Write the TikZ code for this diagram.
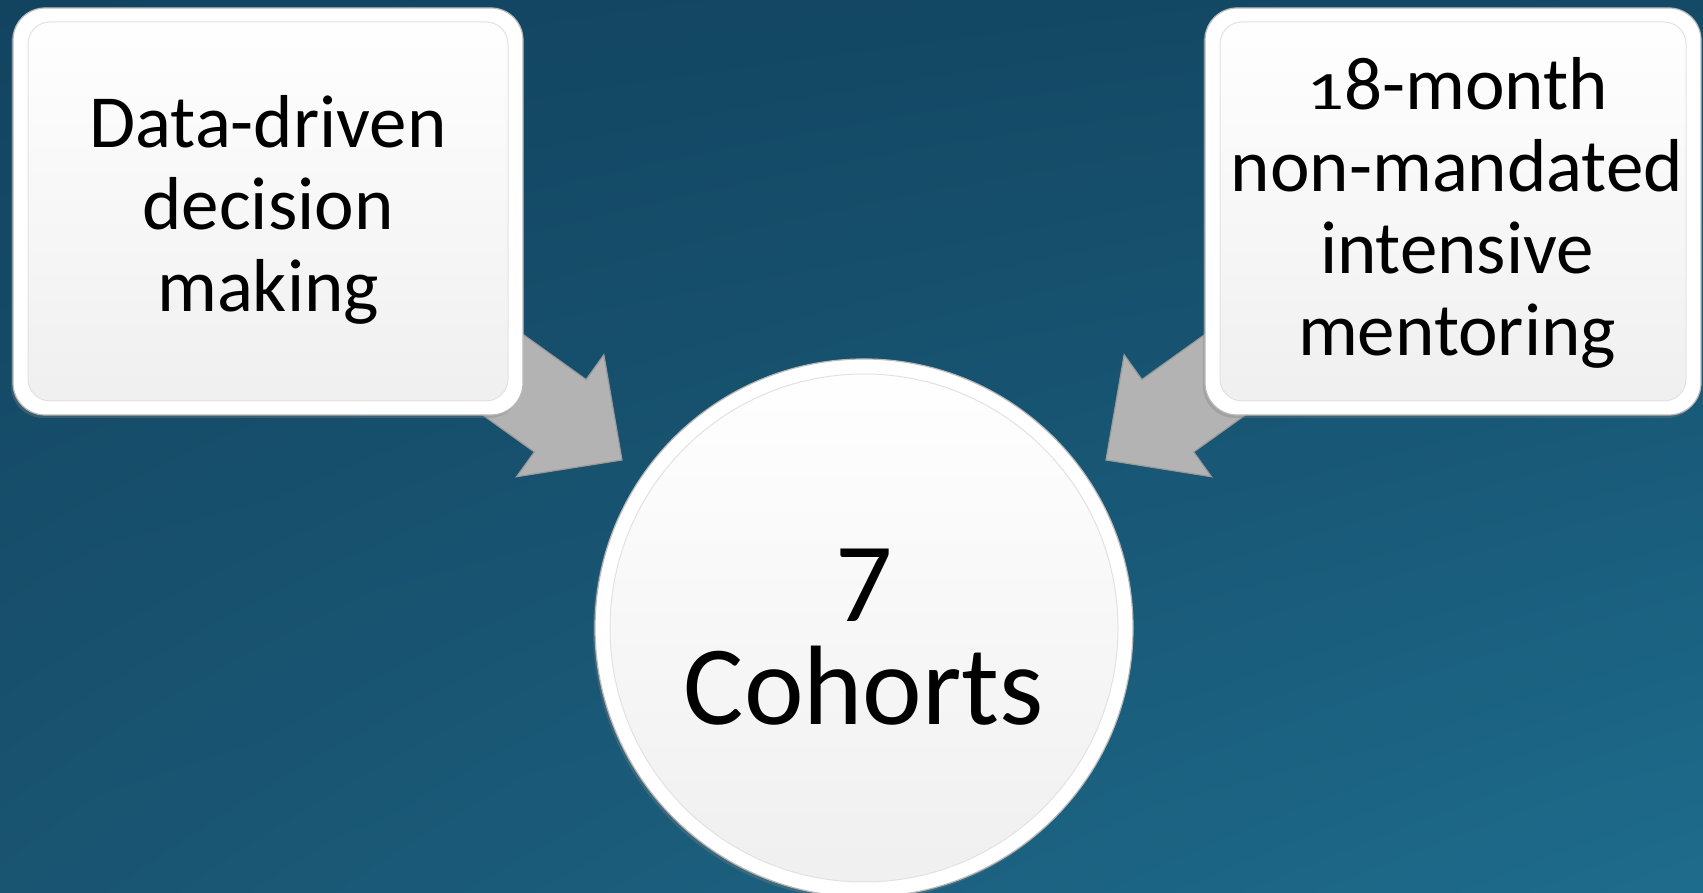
\documentclass[tikz,border=0pt]{standalone}
\usepackage{fontspec}
\usepackage{graphicx}
\setmainfont{Carlito}
\usetikzlibrary{calc,shadows,shadings}

\definecolor{bgUL}{HTML}{124460}
\definecolor{bgUR}{HTML}{144A66}
\definecolor{bgLL}{HTML}{195471}
\definecolor{bgLR}{HTML}{1E6C8D}
\definecolor{arrowgray}{HTML}{B3B3B3}
\definecolor{arrowedge}{HTML}{9A9A9A}
\definecolor{rimgray}{HTML}{B8B8B8}
\definecolor{panelbot}{HTML}{EFEFEF}
\definecolor{panelline}{HTML}{E2E2E2}

% text-style figure one: full width, squashed to x-height
\newcommand\lowone{\scalebox{1}[0.72]{1}}

\tikzset{
  arrowbody/.style={fill=arrowgray, draw=arrowedge, line width=1.2pt, line join=miter},
  blockarrow/.pic={
    \path[arrowbody] (-260,-44.5) -- (-76,-44.5) -- (-76,-75) -- (0,0)
      -- (-76,75) -- (-76,44.5) -- (-260,44.5) -- cycle;
  },
  cardbox/.style={rectangle, rounded corners=32pt, minimum width=510pt,
    minimum height=407pt, inner sep=0pt, fill=white, draw=rimgray, line width=1.2pt,
    drop shadow={shadow xshift=-2pt, shadow yshift=-3pt, opacity=0.35},
    path picture={
      \shade[top color=white, bottom color=panelbot, draw=panelline, line width=1pt,
        rounded corners=22pt]
        ($(path picture bounding box.south west)+(15,14)$) rectangle
        ($(path picture bounding box.north east)+(-15,-14)$);
    }},
  hubdisc/.style={circle, minimum size=538pt, inner sep=0pt, fill=white,
    draw=rimgray, line width=1.2pt,
    drop shadow={shadow xshift=-2pt, shadow yshift=-3pt, opacity=0.35},
    path picture={
      \shade[top color=white, bottom color=panelbot, draw=panelline, line width=1pt]
        (path picture bounding box.center) circle (254);
    }},
  % the base anchor of these multi-line labels sits on the last line
  cardtext/.style={anchor=base, align=center, text=black,
    font=\fontsize{75}{82}\selectfont},
  hubtext/.style={anchor=base, align=center, text=black,
    font=\fontsize{113}{103}\selectfont},
}

\begin{document}
\begin{tikzpicture}[x=1pt, y=1pt]
  \useasboundingbox (0,0) rectangle (1703,893);
  % backdrop
  \shade[upper left=bgUL, upper right=bgUR, lower left=bgLL, lower right=bgLR]
    (0,0) rectangle (1703,893);

  % block arrows pointing at the hub, drawn beneath the cards
  \coordinate (ltip) at (622,433);
  \coordinate (rtip) at (1106,433);
  \pic[rotate=-35.6] at (ltip) {blockarrow};
  \pic[rotate=215.6] at (rtip) {blockarrow};

  % cards
  \node[cardbox] (lbox) at (268,681.5) {};
  \node[cardbox, minimum width=496pt] (rbox) at (1453,681.5) {};
  \node[cardtext] (ltxt) at (268,581) {Data-driven\\decision\\making};
  \node[cardtext] (rtxt) at (1457,537)
    {\lowone 8-month\\non-mandated\\intensive\\mentoring};

  % hub
  \node[hubdisc] (hub) at (864,265) {};
  \node[hubtext] (htxt) at (864,168) {7\\Cohorts};
\end{tikzpicture}
\end{document}
